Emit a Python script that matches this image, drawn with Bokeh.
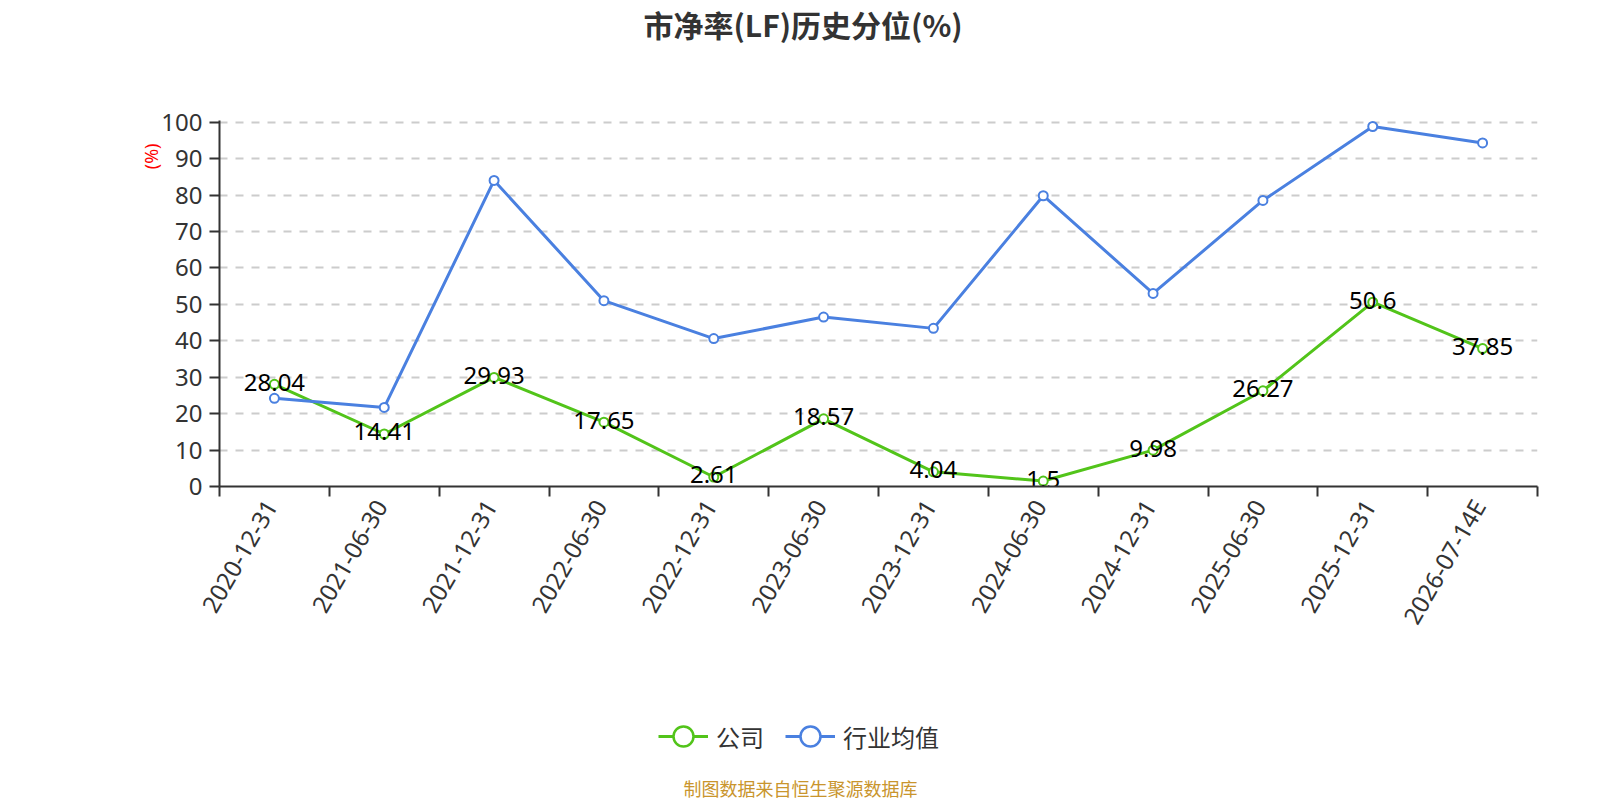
import math
from bokeh.plotting import figure
from bokeh.layouts import column
from bokeh.models import (Range1d, FixedTicker, Legend, LegendItem, ColumnDataSource, Title, Label)
from bokeh.core.properties import value
from bokeh.embed import file_html
from bokeh.resources import INLINE

# ---- data ----
categories = ["2020-12-31", "2021-06-30", "2021-12-31", "2022-06-30", "2022-12-31",
              "2023-06-30", "2023-12-31", "2024-06-30", "2024-12-31", "2025-06-30",
              "2025-12-31", "2026-07-14E"]
company = [28.04, 14.41, 29.93, 17.65, 2.61, 18.57, 4.04, 1.5, 9.98, 26.27, 50.6, 37.85]
industry = [24.2, 21.7, 84.0, 51.0, 40.6, 46.5, 43.4, 79.8, 53.0, 78.5, 98.8, 94.3]
y_ticks = [0, 10, 20, 30, 40, 50, 60, 70, 80, 90, 100]
series_names = ["公司", "行业均值"]
title_text = "市净率(LF)历史分位(%)"
footer_text = "制图数据来自恒生聚源数据库"
y_unit = "(%)"

GREEN = "#52c41a"
BLUE = "#4a80e0"
FONT = "Noto Sans"
CJK = "Noto Sans CJK SC"

n = len(categories)
xs = [i + 0.5 for i in range(n)]
label_shift = -0.036
src = ColumnDataSource(dict(x=xs, company=company, industry=industry,
                            lab=[str(v) for v in company]))

# ---------------- main chart ----------------
p = figure(frame_width=1318, frame_height=366,
           min_border_left=219, min_border_right=63,
           min_border_top=119, min_border_bottom=170,
           x_range=Range1d(0, n), y_range=Range1d(0, 100.45),
           output_backend="svg", toolbar_location=None,
           background_fill_color="white", border_fill_color="white")
p.outline_line_color = None

xa = p.xaxis[0]
lab_ticks = [x + label_shift for x in xs]
xa.ticker = FixedTicker(ticks=lab_ticks, minor_ticks=list(range(n + 1)))
xa.major_label_overrides = {t: c for t, c in zip(lab_ticks, categories)}
xa.major_tick_out = 0
xa.major_tick_in = 0
xa.minor_tick_out = 10
xa.minor_tick_in = 0
xa.minor_tick_line_color = "#333333"
xa.minor_tick_line_width = 2
xa.axis_line_color = "#333333"
xa.axis_line_width = 2
xa.major_label_orientation = math.pi / 3
xa.major_label_text_font = FONT
xa.major_label_text_font_size = "24px"
xa.major_label_text_color = "#333333"
xa.major_label_standoff = 5

ya = p.yaxis[0]
ya.ticker = FixedTicker(ticks=y_ticks)
ya.minor_tick_line_color = None
ya.major_tick_out = 10
ya.major_tick_in = 0
ya.major_tick_line_color = "#333333"
ya.major_tick_line_width = 2
ya.axis_line_color = "#333333"
ya.axis_line_width = 2
ya.major_label_text_font = FONT
ya.major_label_text_font_size = "24px"
ya.major_label_text_color = "#333333"
ya.major_label_standoff = 7

p.xgrid.grid_line_color = None
p.ygrid.ticker = FixedTicker(ticks=y_ticks[1:])
p.ygrid.grid_line_color = "#cccccc"
p.ygrid.grid_line_dash = "8 8"
p.ygrid.grid_line_width = 2

p.line("x", "company", source=src, line_color=GREEN, line_width=3)
p.scatter("x", "company", source=src, size=9, marker="circle",
          fill_color="white", line_color=GREEN, line_width=2)
p.line("x", "industry", source=src, line_color=BLUE, line_width=3)
p.scatter("x", "industry", source=src, size=9, marker="circle",
          fill_color="white", line_color=BLUE, line_width=2)
p.text("x", "company", text="lab", source=src, text_align="center",
       text_baseline="middle", y_offset=-2, text_font=value(FONT),
       text_font_size="24px", text_color="black")

# title (spacer title sits between it and the frame)
p.add_layout(Title(text=" ", text_font=FONT, text_font_size="10px", standoff=58), "above")
p.add_layout(Title(text=title_text, align="left", offset=424, vertical_align="middle",
                   standoff=0, text_font=CJK, text_font_size="30px",
                   text_font_style="bold", text_color="#333333"), "above")

# unit label on the left
p.add_layout(Title(text=y_unit, align="right", offset=23, vertical_align="bottom",
                   standoff=-8, text_font=FONT, text_font_size="18px",
                   text_font_style="normal", text_color="#ff0000"), "left")

# ---------------- legend + footer strip ----------------
q = figure(width=1600, height=145, x_range=Range1d(0, 1), y_range=Range1d(-2, -1),
           x_axis_type=None, y_axis_type=None, min_border=0,
           min_border_left=0, min_border_right=0, min_border_top=0, min_border_bottom=0,
           output_backend="svg", toolbar_location=None,
           background_fill_color="white", border_fill_color="white")
q.outline_line_color = None
# legend-only renderers (their data lie outside this strip's ranges, so only the legend shows)
ql1 = q.line("x", "company", source=src, line_color=GREEN, line_width=3)
qs1 = q.scatter("x", "company", source=src, marker="circle", size=9,
                fill_color="white", line_color=GREEN, line_width=2.5)
ql2 = q.line("x", "industry", source=src, line_color=BLUE, line_width=3)
qs2 = q.scatter("x", "industry", source=src, marker="circle", size=9,
                fill_color="white", line_color=BLUE, line_width=2.5)

legend = Legend(items=[LegendItem(label=series_names[0], renderers=[ql1, qs1]),
                       LegendItem(label=series_names[1], renderers=[ql2, qs2])],
                orientation="horizontal", location=(439, 40),
                glyph_width=50, glyph_height=50, label_standoff=8, spacing=21,
                padding=0, margin=0, border_line_alpha=0, background_fill_alpha=0,
                label_text_font=CJK, label_text_font_size="24px",
                label_text_color="#333333", label_height=50)
q.add_layout(legend, "center")

q.add_layout(Label(x=581, y=14, x_units="screen", y_units="screen", text=footer_text,
                   text_align="center", text_baseline="middle", text_font=CJK,
                   text_font_size="18px", text_color="#c9952d"))

layout = column(p, q, spacing=0)
open("out.html", "w").write(file_html(layout, INLINE))
